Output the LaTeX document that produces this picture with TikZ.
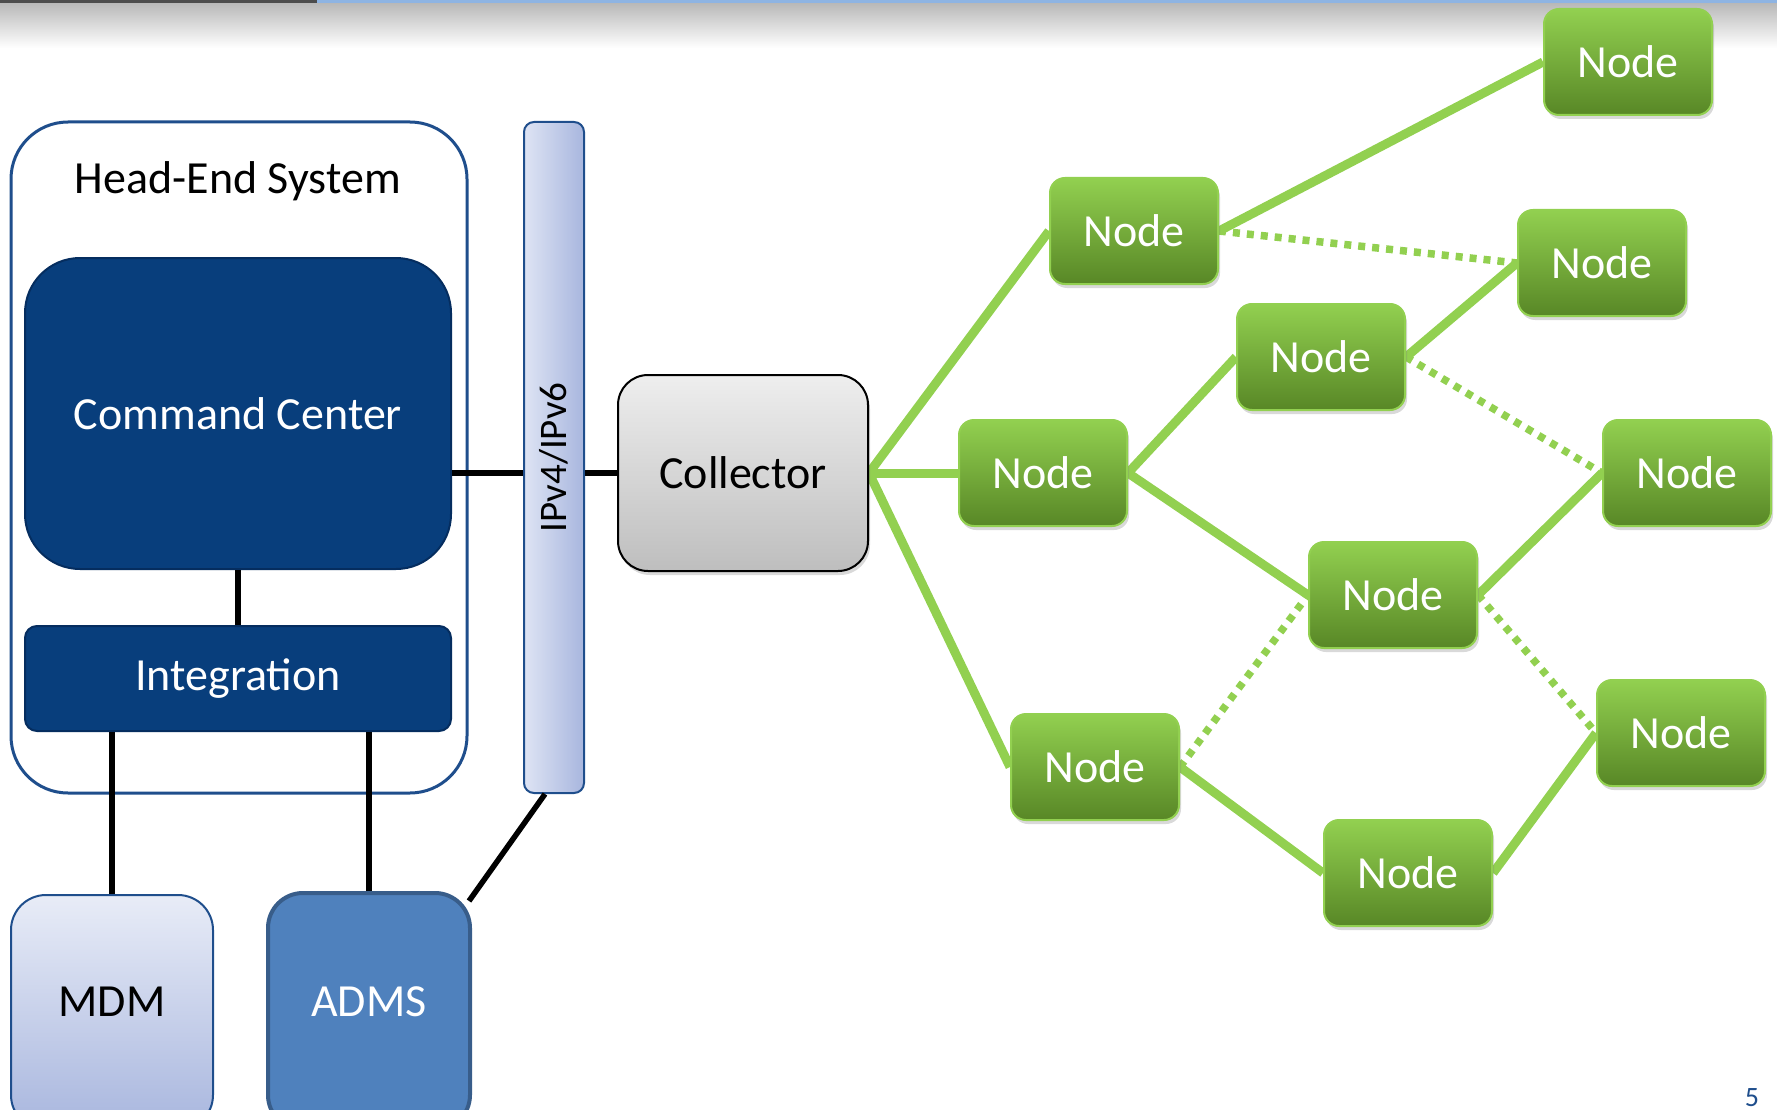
\documentclass[tikz,border=0pt]{standalone}
\usepackage{fontspec}
\setmainfont{Carlito}
\usetikzlibrary{shadows,backgrounds}
\definecolor{navy}{RGB}{8,62,124}
\definecolor{navyedge}{RGB}{5,45,95}
\definecolor{hesblue}{RGB}{31,78,140}
\definecolor{lgreen}{RGB}{146,208,80}
\definecolor{dgreen}{RGB}{88,135,38}
\definecolor{barleft}{RGB}{222,228,244}
\definecolor{barright}{RGB}{168,182,222}
\definecolor{mdmtop}{RGB}{232,236,247}
\definecolor{mdmbot}{RGB}{168,182,222}
\definecolor{admsfill}{RGB}{79,129,189}
\definecolor{admsedge}{RGB}{56,93,138}
\definecolor{colltop}{RGB}{238,238,238}
\definecolor{collbot}{RGB}{190,190,190}
\definecolor{bandgray}{RGB}{184,184,184}
\definecolor{topblue}{RGB}{142,180,227}
\begin{document}
\begin{tikzpicture}[x=1pt,y=-1pt,
  bigfont/.style={font=\fontsize{46}{55}\selectfont},
  meshnode/.style={rectangle, rounded corners=15pt, minimum width=168pt, minimum height=106pt,
    draw=lgreen, line width=2pt, top color=lgreen, bottom color=dgreen, text=white, bigfont,
    drop shadow={opacity=0.3, shadow xshift=2pt, shadow yshift=-4pt}},
  link/.style={draw=lgreen, line width=9pt},
  weak/.style={draw=lgreen, line width=7.5pt, dash pattern=on 7pt off 7pt},
  wire/.style={draw=black, line width=5.5pt}]
\useasboundingbox (0,0) rectangle (1777,1110);

% head-end system
\node[rectangle, rounded corners=57pt, draw=hesblue, line width=3pt, fill=white,
  minimum width=456pt, minimum height=671pt] (hes) at (239,457.5) {};
\node[bigfont, text=black] (title) at (238,181) {Head-End System};
\node[rectangle, rounded corners=55pt, draw=navyedge, line width=2pt, fill=navy, text=white, bigfont,
  minimum width=426pt, minimum height=311pt] (cc) at (238,413.5) {Command Center};
\node[rectangle, rounded corners=12pt, draw=navyedge, line width=2pt, fill=navy, text=white, bigfont,
  minimum width=426pt, minimum height=105pt] (integ) at (238,678.5) {Integration};

% bar
\node[rectangle, rounded corners=10pt, draw=hesblue, line width=2pt, left color=barleft, right color=barright,
  minimum width=60pt, minimum height=671pt] (bar) at (554,457.5) {};
\node[rotate=90, font=\fontsize{39}{46}\selectfont, text=black] (ipv) at (bar.center) {IPv4/IPv6};

% collector
\node[rectangle, rounded corners=30pt, draw=black, line width=2pt, top color=colltop, bottom color=collbot,
  minimum width=250pt, minimum height=196pt, bigfont, text=black,
  drop shadow={opacity=0.3, shadow xshift=2pt, shadow yshift=-4pt}] (coll) at (743,473) {Collector};

% MDM and ADMS
\node[rectangle, rounded corners=35pt, draw=hesblue, line width=2pt, top color=mdmtop, bottom color=mdmbot,
  minimum width=202pt, minimum height=235pt, bigfont, text=black] (mdm) at (112,1012.5) {};
\node[bigfont, text=black] (mdmt) at (112,1002) {MDM};
\node[rectangle, rounded corners=35pt, draw=admsedge, line width=4pt, fill=admsfill,
  minimum width=202pt, minimum height=237pt] (adms) at (369,1011.5) {};
\node[bigfont, text=white] (admst) at (369,1002) {ADMS};

% wires
\draw[wire] (cc.south) -- (integ.north);
\draw[wire] (mdm.north) -- (mdm.north |- integ.south);
\draw[wire] (adms.north) -- (adms.north |- integ.south);
\draw[wire] (cc.east |- coll.west) -- (bar.west |- coll.west);
\draw[wire] (bar.east |- coll.west) -- (coll.west);
\draw[wire] ([xshift=-3pt,yshift=-10pt]adms.north east) -- ([xshift=-9pt]bar.south);

% mesh nodes
\node[meshnode] (n1) at (1628,62) {Node};
\node[meshnode] (n2) at (1134,231) {Node};
\node[meshnode] (n3) at (1602,263) {Node};
\node[meshnode] (n4) at (1321,357) {Node};
\node[meshnode] (n5) at (1043,473) {Node};
\node[meshnode] (n6) at (1687,473) {Node};
\node[meshnode] (n7) at (1393,595) {Node};
\node[meshnode] (n8) at (1681,733) {Node};
\node[meshnode] (n9) at (1095,767) {Node};
\node[meshnode] (n10) at (1408,873) {Node};

\node[anchor=base, font=\fontsize{28}{34}\selectfont, text=hesblue] (pg) at (1752,1106) {5};

\begin{scope}[on background layer]
\shade[top color=bandgray, bottom color=white] (0,3) rectangle (1777,48);
\fill[topblue] (0,0) rectangle (1777,3);
\fill[black!70] (0,0) rectangle (317,3);
\draw[link] (coll.east) -- (n2.west);
\draw[link] (coll.east) -- (n5.west);
\draw[link] (coll.east) -- (n9.west);
\draw[link] (n2.east) -- (n1.west);
\draw[weak] (n2.east) -- (n3.west);
\draw[link] (n5.east) -- (n4.west);
\draw[link] (n5.east) -- (n7.west);
\draw[link] (n4.east) -- (n3.west);
\draw[weak] (n4.east) -- (n6.west);
\draw[link] (n7.east) -- (n6.west);
\draw[weak] (n7.east) -- (n8.west);
\draw[weak] (n9.east) -- (n7.west);
\draw[link] (n9.east) -- (n10.west);
\draw[link] (n10.east) -- (n8.west);
\end{scope}
\end{tikzpicture}
\end{document}
